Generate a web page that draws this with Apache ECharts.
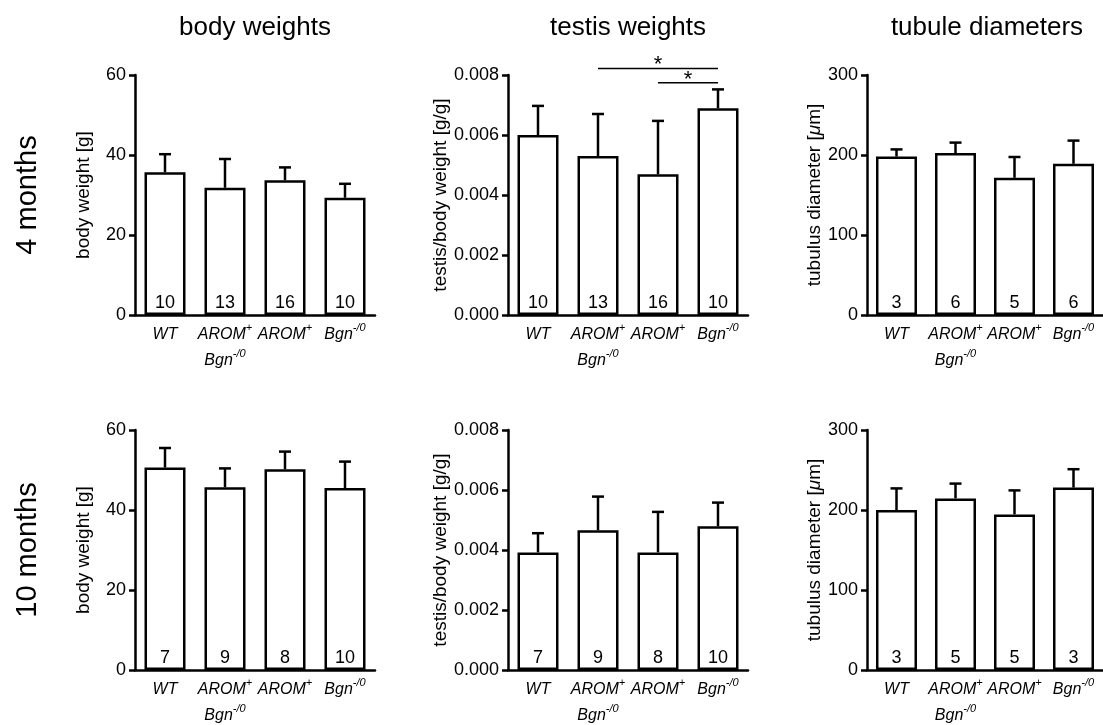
<!DOCTYPE html>
<html><head><meta charset="utf-8">
<script src="https://cdn.jsdelivr.net/npm/echarts@6/dist/echarts.min.js"></script>
<style>html,body{margin:0;padding:0;background:#fff}#c{width:1103px;height:725px}</style>
</head><body><div id="c"></div>
<script>
// ---- data ----
const categories = ['WT', 'AROM+ Bgn-/0', 'AROM+', 'Bgn-/0'];
const columnTitles = ['body weights', 'testis weights', 'tubule diameters'];
const rowLabels = ['4 months', '10 months'];

const bodyWeight4Mean = [35.7, 31.8, 33.7, 29.3];
const bodyWeight4Top  = [40.2, 39.0, 36.9, 32.8];
const bodyWeight4N    = [10, 13, 16, 10];

const testis4Mean = [0.0060, 0.0053, 0.00469, 0.00689];
const testis4Top  = [0.00697, 0.0067, 0.00647, 0.00752];
const testis4N    = [10, 13, 16, 10];

const tubule4Mean = [198, 202.5, 171.5, 189];
const tubule4Top  = [207, 215.5, 197.5, 218];
const tubule4N    = [3, 6, 5, 6];

const bodyWeight10Mean = [50.6, 45.7, 50.2, 45.5];
const bodyWeight10Top  = [55.5, 50.4, 54.6, 52.1];
const bodyWeight10N    = [7, 9, 8, 10];

const testis10Mean = [0.00392, 0.00466, 0.00392, 0.00479];
const testis10Top  = [0.00456, 0.00578, 0.00527, 0.00558];
const testis10N    = [7, 9, 8, 10];

const tubule10Mean = [200, 214.5, 194.5, 228];
const tubule10Top  = [227, 233, 224.5, 251];
const tubule10N    = [3, 5, 5, 3];

// significance brackets on 4-month testis weights: [fromIndex, toIndex, yValue, mark]
const testis4Significance = [[1, 3, 0.00822, '*'], [2, 3, 0.00774, '*']];

const bodyAxisTicks = [0, 20, 40, 60];
const testisAxisTicks = [0, 0.002, 0.004, 0.006, 0.008];
const tubuleAxisTicks = [0, 100, 200, 300];

// ---- layout / style ----
const FONT = '"Liberation Sans", Arial, Helvetica, sans-serif';
const colLeft = [135, 508, 867];
const rowTop = [75, 430];
const W = 240, H = 240;

const panels = [
  {row:0, col:0, mean:bodyWeight4Mean, top:bodyWeight4Top, n:bodyWeight4N, ticks:bodyAxisTicks, dec:0, name:'body weight [g]'},
  {row:0, col:1, mean:testis4Mean, top:testis4Top, n:testis4N, ticks:testisAxisTicks, dec:3, name:'testis/body weight [g/g]', sig:testis4Significance},
  {row:0, col:2, mean:tubule4Mean, top:tubule4Top, n:tubule4N, ticks:tubuleAxisTicks, dec:0, name:'tubulus diameter [{it|μ}m]'},
  {row:1, col:0, mean:bodyWeight10Mean, top:bodyWeight10Top, n:bodyWeight10N, ticks:bodyAxisTicks, dec:0, name:'body weight [g]'},
  {row:1, col:1, mean:testis10Mean, top:testis10Top, n:testis10N, ticks:testisAxisTicks, dec:3, name:'testis/body weight [g/g]'},
  {row:1, col:2, mean:tubule10Mean, top:tubule10Top, n:tubule10N, ticks:tubuleAxisTicks, dec:0, name:'tubulus diameter [{it|μ}m]'}
];

const catRich = {
  i: {fontStyle:'italic', fontSize:16, lineHeight:26, fontFamily:FONT, color:'#000'},
  s: {fontStyle:'italic', fontSize:11, lineHeight:20, verticalAlign:'top', fontFamily:FONT, color:'#000'}
};
function fmtCat(v){
  const fmtPart = t => {
    const m = t.match(/^(\w+)([+\-\/0]+)?$/);
    if (!m) return '{i|' + t + '}';
    return '{i|' + m[1] + '}' + (m[2] ? '{s|' + m[2] + '}' : '');
  };
  return v.split(' ').map(fmtPart).join('\n');
}

function errRender(params, api){
  const x = api.value(0), m = api.value(1), t = api.value(2);
  const p0 = api.coord([x, m]);
  const p1 = api.coord([x, t]);
  const st = {stroke:'#000', lineWidth:2.5};
  return {type:'group', children:[
    {type:'line', shape:{x1:p0[0], y1:p0[1], x2:p1[0], y2:p1[1]}, style:st},
    {type:'line', shape:{x1:p1[0]-6, y1:p1[1], x2:p1[0]+6, y2:p1[1]}, style:st}
  ]};
}
function sigRender(params, api){
  const a = api.coord([api.value(0), api.value(2)]);
  const b = api.coord([api.value(1), api.value(2)]);
  return {type:'group', children:[
    {type:'line', shape:{x1:a[0], y1:a[1], x2:b[0], y2:b[1]}, style:{stroke:'#000', lineWidth:1.5}},
    {type:'text', x:(a[0]+b[0])/2, y:a[1]-3, style:{text:'*', font:'22px ' + FONT, fill:'#000', align:'center', verticalAlign:'middle'}}
  ]};
}

const grid = [], xAxis = [], yAxis = [], series = [];
panels.forEach((p, i) => {
  const t = p.ticks;
  grid.push({left:colLeft[p.col], top:rowTop[p.row], width:W, height:H});
  xAxis.push({
    type:'category', gridIndex:i, data:categories,
    axisLine:{lineStyle:{color:'#000', width:2.5}},
    axisTick:{alignWithLabel:true, length:7, lineStyle:{color:'#000', width:2.5}},
    axisLabel:{interval:0, margin:7, formatter:fmtCat, rich:catRich},
    splitLine:{show:false}
  });
  yAxis.push({
    type:'value', gridIndex:i, min:t[0], max:t[t.length-1], interval:t[1]-t[0],
    axisLine:{show:true, lineStyle:{color:'#000', width:2.5}},
    axisTick:{show:true, length:6, lineStyle:{color:'#000', width:2.5}},
    splitLine:{show:false},
    axisLabel:{fontSize:18, color:'#000', fontFamily:FONT, margin:9, formatter:v => v.toFixed(p.dec)},
    name:p.name, nameLocation:'middle', nameGap:42,
    nameTextStyle:{fontSize:19, color:'#000', fontFamily:FONT,
      rich:{it:{fontSize:19, fontStyle:'italic', color:'#000', fontFamily:FONT}}}
  });
  series.push({
    type:'bar', xAxisIndex:i, yAxisIndex:i, data:p.mean, barWidth:41,
    itemStyle:{color:'#fff', borderColor:'#000', borderWidth:2.5},
    label:{show:true, position:'insideBottom', distance:3, formatter:d => String(p.n[d.dataIndex]),
      fontSize:18, color:'#000', fontFamily:FONT},
    silent:true
  });
  series.push({
    type:'custom', xAxisIndex:i, yAxisIndex:i, z:3, silent:true,
    data:p.mean.map((m, j) => [j, m, p.top[j]]),
    encode:{x:0, y:[1,2]},
    renderItem:errRender
  });
  if (p.sig) {
    series.push({
      type:'custom', xAxisIndex:i, yAxisIndex:i, z:3, silent:true, clip:false,
      data:p.sig, encode:{x:[0,1], y:2},
      renderItem:sigRender
    });
  }
});

const graphic = [];
columnTitles.forEach((txt, c) => graphic.push({
  type:'text', x:colLeft[c] + W/2, y:28,
  style:{text:txt, font:'26px ' + FONT, fill:'#000', align:'center', verticalAlign:'middle'}
}));
rowLabels.forEach((txt, r) => graphic.push({
  type:'text', x:28, y:rowTop[r] + H/2, rotation:Math.PI/2,
  style:{text:txt, font:'29px ' + FONT, fill:'#000', align:'center', verticalAlign:'middle'}
}));

const chart = echarts.init(document.getElementById('c'), null, {renderer:'canvas'});
chart.setOption({
  animation:false,
  backgroundColor:'#fff',
  textStyle:{fontFamily:FONT, color:'#000'},
  grid, xAxis, yAxis, series, graphic
});
</script></body></html>
